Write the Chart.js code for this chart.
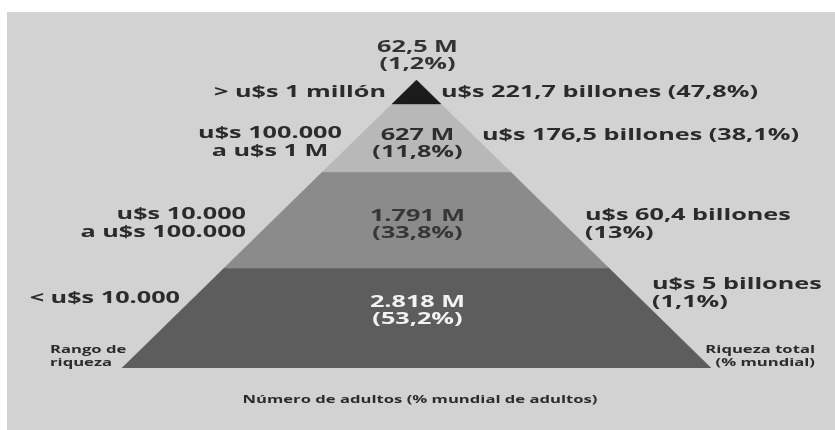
<!DOCTYPE html>
<html>
<head>
<meta charset="utf-8">
<script src="https://cdn.jsdelivr.net/npm/chart.js@4/dist/chart.umd.min.js"></script>
<style>
  html, body { margin: 0; padding: 0; background: #ffffff; }
  #wrap { width: 835px; height: 430px; }
</style>
</head>
<body>
<div id="wrap"><canvas id="c" width="835" height="430"></canvas></div>
<script>
// ---- data ----
const tiers = ['> u$s 1 millón', 'u$s 100.000\na u$s 1 M', 'u$s 10.000\na u$s 100.000', '< u$s 10.000'];
const adults = ['62,5 M', '627 M', '1.791 M', '2.818 M'];
const adultShares = ['1,2%', '11,8%', '33,8%', '53,2%'];
const wealth = ['u$s 221,7 billones', 'u$s 176,5 billones', 'u$s 60,4 billones', 'u$s 5 billones'];
const wealthShares = ['47,8%', '38,1%', '13%', '1,1%'];
// tier boundaries as fraction of pyramid height (0 = base, 1 = apex)
const tierTops = [1.0, 0.917, 0.681, 0.347];
const tierBottoms = [0.917, 0.681, 0.347, 0.0];
const axisTitles = ['Rango de\nriqueza', 'Riqueza total\n(% mundial)', 'Número de adultos (% mundial de adultos)'];

// ---- styles ----
const tierColors = ['#1b1b1b', '#b8b8b8', '#8b8b8b', '#5d5d5d'];
const centerTextColors = ['#333333', '#2e2e2e', '#363636', '#f2f2f2'];
const textColor = '#2b2b2b';
const MAIN_FONT = 'bold 16px "Open Sans"';
const SMALL_FONT = 'bold 11px "Open Sans"';

function halfWidth(h) { return 1 - h; }
function polygon(b, t) {
  return [
    { x: -halfWidth(b), y: b },
    { x: halfWidth(b), y: b },
    { x: halfWidth(t), y: t },
    { x: -halfWidth(t), y: t },
    { x: -halfWidth(b), y: b }
  ];
}

const datasets = tiers.map((t, i) => ({
  label: t,
  data: polygon(tierBottoms[i], tierTops[i]),
  showLine: true,
  fill: 'shape',
  backgroundColor: tierColors[i],
  borderColor: tierColors[i],
  borderWidth: 0.5,
  pointRadius: 0,
  tension: 0
}));

function drawText(ctx, text, x, y, align, sx) {
  ctx.save();
  ctx.translate(x, y);
  ctx.scale(sx, 1);
  ctx.textAlign = align;
  ctx.textBaseline = 'middle';
  ctx.fillText(text, 0, 0);
  ctx.restore();
}

const bgPlugin = {
  id: 'bg',
  beforeDraw(chart) {
    const ctx = chart.ctx;
    ctx.save();
    ctx.fillStyle = '#ffffff';
    ctx.fillRect(0, 0, chart.width, chart.height);
    ctx.fillStyle = '#d2d2d2';
    ctx.fillRect(7, 12, chart.width - 7, chart.height - 12);
    ctx.restore();
  }
};

// label layout (pixel offsets, not data)
const leftLayout = [
  { x: 386, y: 92, align: 'right' },
  { x: 270, y: 133, align: 'center' },
  { x: 246, y: 214, align: 'right' },
  { x: 180, y: 298, align: 'right' }
];
const rightLayout = [
  { x: 441, y: 92, inline: true },
  { x: 482, y: 135, inline: true },
  { x: 585, y: 215, inline: false },
  { x: 652, y: 284, inline: false }
];
const centerLayout = [47, 135, 216, 302];
const LINE = 18;

const labelPlugin = {
  id: 'labels',
  afterDatasetsDraw(chart) {
    const ctx = chart.ctx;
    const xs = chart.scales.x;
    const cx = xs.getPixelForValue(0) + 1;
    ctx.save();
    ctx.font = MAIN_FONT;
    const sx = 317 / ctx.measureText(wealth[0] + ' (' + wealthShares[0] + ')').width;
    ctx.fillStyle = textColor;
    // left tier labels
    tiers.forEach((t, i) => {
      const L = leftLayout[i];
      t.split('\n').forEach((line, k) => drawText(ctx, line, L.x, L.y + k * LINE, L.align, sx));
    });
    // right wealth labels
    wealth.forEach((w, i) => {
      const R = rightLayout[i];
      if (R.inline) {
        drawText(ctx, w + ' (' + wealthShares[i] + ')', R.x, R.y, 'left', sx);
      } else {
        drawText(ctx, w, R.x, R.y, 'left', sx);
        drawText(ctx, '(' + wealthShares[i] + ')', R.x, R.y + LINE, 'left', sx);
      }
    });
    // center adult labels
    adults.forEach((a, i) => {
      ctx.fillStyle = centerTextColors[i];
      const y = centerLayout[i];
      drawText(ctx, a, cx, y, 'center', sx);
      drawText(ctx, '(' + adultShares[i] + ')', cx, y + 17.5, 'center', sx);
    });
    // axis titles
    ctx.font = SMALL_FONT;
    ctx.fillStyle = textColor;
    const ssx = 355 / ctx.measureText(axisTitles[2]).width;
    axisTitles[0].split('\n').forEach((line, k) => drawText(ctx, line, 50, 350 + k * 13, 'left', ssx));
    axisTitles[1].split('\n').forEach((line, k) => drawText(ctx, line, 815, 350 + k * 12.5, 'right', ssx));
    drawText(ctx, axisTitles[2], 420, 400, 'center', ssx);
    ctx.restore();
  }
};

new Chart(document.getElementById('c'), {
  type: 'scatter',
  data: { datasets },
  options: {
    responsive: false,
    devicePixelRatio: 1,
    animation: false,
    events: [],
    layout: { padding: { left: 122, right: 124, top: 80, bottom: 62 } },
    scales: {
      x: { type: 'linear', min: -1, max: 1, display: false },
      y: { type: 'linear', min: 0, max: 1, display: false }
    },
    plugins: {
      legend: { display: false },
      tooltip: { enabled: false },
      title: { display: false }
    }
  },
  plugins: [bgPlugin, labelPlugin]
});
</script>
</body>
</html>
